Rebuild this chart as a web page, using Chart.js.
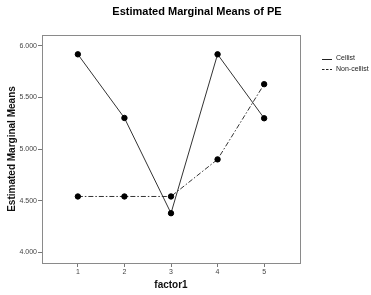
<!DOCTYPE html>
<html>
<head>
<meta charset="utf-8">
<script src="https://cdn.jsdelivr.net/npm/chart.js@4"></script>
<style>
  html, body { margin: 0; padding: 0; background: #fff; }
  #wrap { width: 371px; height: 295px; position: relative; }
</style>
</head>
<body>
<div id="wrap"><canvas id="chart" width="371" height="295"></canvas></div>
<script>
// factor1 levels
const factorLevels = [1, 2, 3, 4, 5];
// estimated marginal means of PE
const cellist = [5.917, 5.301, 4.379, 5.917, 5.298];
const nonCellist = [4.541, 4.541, 4.541, 4.900, 5.628];
const yTicks = [4.0, 4.5, 5.0, 5.5, 6.0];
const seriesNames = ["Cellist", "Non-cellist"];

const FONT = "Arial, 'Liberation Sans', sans-serif";

// frame box + title + legend, SPSS style
const extras = {
  id: "extras",
  afterDraw(chart) {
    const { ctx, chartArea: a } = chart;
    ctx.save();
    ctx.strokeStyle = "#8a8a8a";
    ctx.lineWidth = 1;
    ctx.strokeRect(Math.round(a.left) + 0.5, Math.round(a.top) + 0.5,
      Math.round(a.right - a.left), Math.round(a.bottom - a.top));

    ctx.fillStyle = "#000";
    ctx.font = "bold 11px " + FONT;
    ctx.textAlign = "center";
    ctx.textBaseline = "middle";
    ctx.fillText("Estimated Marginal Means of PE", 197, 12);

    // legend
    ctx.font = "7px " + FONT;
    ctx.textAlign = "left";
    chart.data.datasets.forEach((ds, i) => {
      const y = 58.5 + i * 10.5;
      ctx.strokeStyle = "#222";
      ctx.lineWidth = 1;
      ctx.setLineDash(i === 0 ? [] : [2.5, 1.5]);
      ctx.beginPath();
      ctx.moveTo(322, Math.round(y) + 0.5);
      ctx.lineTo(332, Math.round(y) + 0.5);
      ctx.stroke();
      ctx.setLineDash([]);
      ctx.fillStyle = "#222";
      ctx.fillText(ds.label, 336, y);
    });
    ctx.restore();
  }
};

new Chart(document.getElementById("chart"), {
  type: "line",
  data: {
    datasets: [
      {
        label: seriesNames[0],
        data: factorLevels.map((x, i) => ({ x, y: cellist[i] })),
        borderColor: "#333",
        borderWidth: 1,
        pointRadius: 2.7,
        pointBackgroundColor: "#000",
        pointBorderColor: "#000",
        tension: 0
      },
      {
        label: seriesNames[1],
        data: factorLevels.map((x, i) => ({ x, y: nonCellist[i] })),
        borderColor: "#333",
        borderWidth: 1,
        borderDash: [5, 2, 1.5, 2],
        pointRadius: 2.7,
        pointBackgroundColor: "#000",
        pointBorderColor: "#000",
        tension: 0
      }
    ]
  },
  options: {
    responsive: false,
    animation: false,
    layout: { padding: { left: 0, right: 71, top: 35, bottom: 0 } },
    plugins: { legend: { display: false }, tooltip: { enabled: false }, title: { display: false } },
    scales: {
      x: {
        type: "linear",
        min: 0.23,
        max: 5.77,
        afterBuildTicks: s => { s.ticks = factorLevels.map(v => ({ value: v })); },
        afterFit: s => { s.height = 32; },
        grid: { drawOnChartArea: false, drawTicks: true, tickLength: 4, color: "#777" },
        border: { display: false },
        ticks: { color: "#444", font: { family: FONT, size: 7 }, padding: 1, callback: v => String(v) },
        title: { display: true, text: "factor1", color: "#111", font: { family: FONT, size: 10, weight: "bold" }, padding: { top: 2 } }
      },
      y: {
        min: 3.897,
        max: 6.104,
        afterBuildTicks: s => { s.ticks = yTicks.map(v => ({ value: v })); },
        afterFit: s => { s.width = 42; },
        grid: { drawOnChartArea: false, drawTicks: true, tickLength: 4, color: "#777" },
        border: { display: false },
        ticks: { color: "#444", font: { family: FONT, size: 7 }, padding: 1, callback: v => Number(v).toFixed(3) },
        title: { display: true, text: "Estimated Marginal Means", color: "#111", font: { family: FONT, size: 10, weight: "bold" }, padding: { top: 6, bottom: 0 } }
      }
    }
  },
  plugins: [extras]
});
</script>
</body>
</html>
